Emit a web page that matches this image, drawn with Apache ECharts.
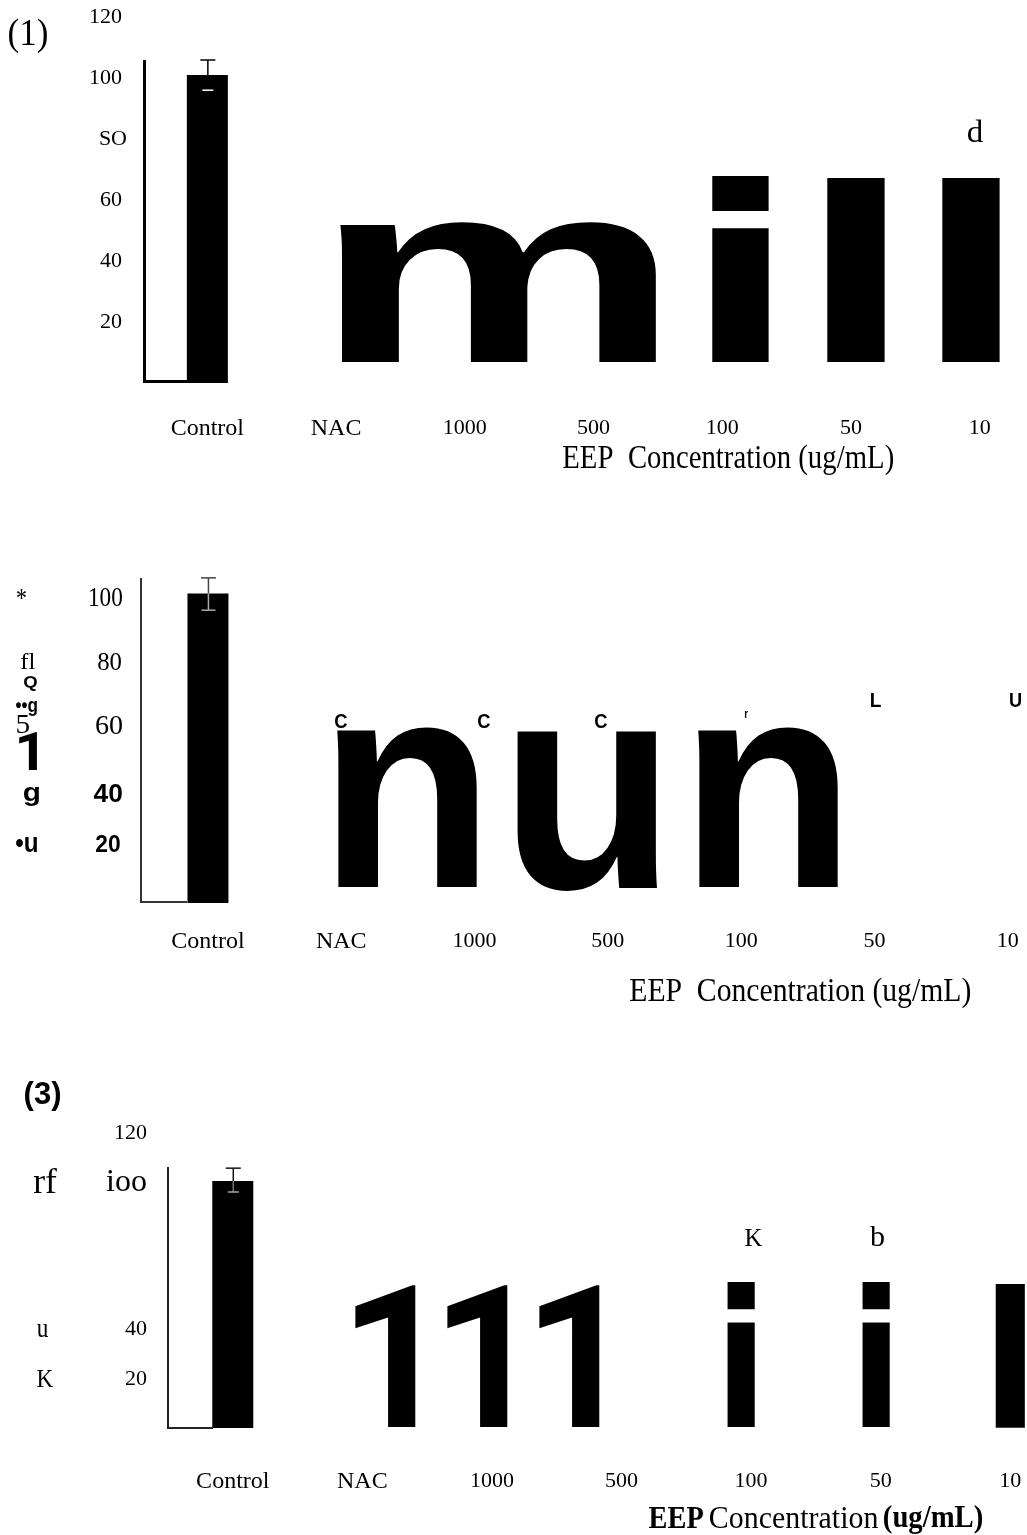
<!DOCTYPE html>
<html>
<head>
<meta charset="utf-8">
<style>html,body{margin:0;padding:0;background:#fff;overflow:hidden}#c{width:1027px;height:1535px}</style>
<script src="https://cdn.jsdelivr.net/npm/echarts@6/dist/echarts.min.js"></script>
</head>
<body>
<div id="c"></div>
<script>
// ---- data ----
var categories = ['Control', 'NAC', '1000', '500', '100', '50', '10'];
var values1 = [101, null, null, null, null, null, null];
var values2 = [101.5, null, null, null, null, null, null];
var values3 = [100.5, null, null, null, null, null, null];
var errorLow = [96, 96, 96];
var errorHigh = [105.9, 106.6, 105.7];
var tickLabels1 = { 120: '120', 100: '100', 80: 'SO', 60: '60', 40: '40', 20: '20' };
var tickLabels3 = { 120: '120', 100: 'ioo', 40: '40', 20: '20' };

// ---- layout (text placed by its ink box: text, family, weight, x0, x1, y0, y1) ----
var SERIF = 'Liberation Serif', SANS = 'Liberation Sans', ROB = 'Roboto', DV = 'DejaVu Sans';
var texts = [
  ['(1)', SERIF, 'normal', 9, 47, 19, 53],
  ['d', SERIF, 'normal', 968, 983, 119, 142],
  ['m', SANS, 'bold', 340, 657, 222, 362],
  ['i', DV, 'bold', 711, 769, 176, 362],
  ['l', DV, 'bold', 826, 885, 178, 362],
  ['l', DV, 'bold', 941, 1000, 178, 362],
  ['EEP  Concentration (ug/mL)', SERIF, 'normal', 563, 893, 444, 475],
  ['*', SERIF, 'normal', 17, 26, 589, 599],
  ['fl', SERIF, 'normal', 21, 35, 653, 669],
  ['Q', SANS, 'bold', 24, 37, 677, 691],
  ['••g', SANS, 'bold', 16, 37, 701, 716],
  ['5', SERIF, 'normal', 17, 29, 715, 733],
  ['1', ROB, 'bold', 19, 37, 731, 770],
  ['g', SANS, 'bold', 24, 39, 787, 807],
  ['•u', SANS, 'bold', 16, 37, 837, 852],
  ['100', SERIF, 'normal', 90, 122, 588, 606],
  ['80', SERIF, 'normal', 98, 121, 653, 670],
  ['60', SERIF, 'normal', 96, 122, 715, 734],
  ['40', SANS, 'bold', 94, 122, 784, 802],
  ['20', SANS, 'bold', 96, 120, 835, 852],
  ['n', SANS, 'bold', 337, 477, 727, 887],
  ['u', SANS, 'bold', 517, 657, 731, 891],
  ['n', SANS, 'bold', 698, 838, 727, 887],
  ['C', SANS, 'bold', 335, 347, 713, 728],
  ['C', SANS, 'bold', 478, 490, 713, 728],
  ['C', SANS, 'bold', 595, 607, 713, 728],
  ['r', SANS, 'bold', 745, 748, 711, 718],
  ['L', SANS, 'bold', 871, 881, 693, 707],
  ['U', SANS, 'bold', 1010, 1021, 693, 707],
  ['EEP  Concentration (ug/mL)', SERIF, 'normal', 630, 970, 978, 1008],
  ['(3)', SANS, 'bold', 25, 60, 1081, 1111],
  ['rf', SERIF, 'normal', 34, 57, 1168, 1193],
  ['u', SERIF, 'normal', 37, 48, 1324, 1337],
  ['K', SERIF, 'normal', 37, 53, 1371, 1387],
  ['1', ROB, 'bold', 355, 416, 1285, 1427],
  ['1', ROB, 'bold', 447, 508, 1285, 1427],
  ['1', ROB, 'bold', 539, 600, 1285, 1427],
  ['i', DV, 'bold', 727, 755, 1282, 1427],
  ['i', DV, 'bold', 862, 890, 1282, 1427],
  ['l', DV, 'bold', 995, 1025, 1284, 1428],
  ['K', SERIF, 'normal', 745, 762, 1229, 1246],
  ['b', SERIF, 'normal', 870, 884, 1225, 1246],
  ['EEP', SERIF, 'bold', 649, 703, 1507, 1528],
  ['Concentration', SERIF, 'normal', 710, 878, 1507, 1528],
  ['(ug/mL)', SERIF, 'bold', 884, 982, 1506, 1534]
];
// axis lines that stop part-way: x0, y0, x1, y1, width, colour
var axisLines = [
  [144.5, 60, 144.5, 383, 3, '#000'],
  [143, 381.5, 187, 381.5, 3, '#000'],
  [141, 578, 141, 903, 2, '#333'],
  [140, 902, 187, 902, 2, '#333'],
  [168, 1167, 168, 1429, 2, '#222'],
  [167, 1428, 213, 1428, 2, '#222']
];

var probe = document.createElement('canvas').getContext('2d');
function fitText(t) {
  var base = 200;
  probe.font = t[2] + ' ' + base + 'px "' + t[1] + '"'; probe.textBaseline = 'middle'; probe.textAlign = 'left';
  var m = probe.measureText(t[0]);
  var inkW = m.actualBoundingBoxRight + m.actualBoundingBoxLeft;
  var inkH = m.actualBoundingBoxAscent + m.actualBoundingBoxDescent;
  var sx = (t[4] - t[3]) / inkW, sy = (t[6] - t[5]) / inkH;
  return {
    type: 'text', silent: true, z: 5,
    x: t[3] + m.actualBoundingBoxLeft * sx,
    y: t[5] + m.actualBoundingBoxAscent * sy,
    scaleX: sx, scaleY: sy,
    style: { text: t[0], fontFamily: t[1], fontWeight: t[2], fontSize: base, fill: '#000', align: 'left', verticalAlign: 'middle' }
  };
}
var graphics = texts.map(fitText).concat(axisLines.map(function (l) {
  return { type: 'line', silent: true, z: 4,
    shape: { x1: l[0], y1: l[1], x2: l[2], y2: l[3] },
    style: { stroke: l[5], lineWidth: l[4] } };
}));

function errorSeries(i, low, high, bar, capTop, capLow, outer, inner, lowColor) {
  return {
    type: 'custom', xAxisIndex: i, yAxisIndex: i, clip: false, z: 3, silent: true,
    data: [[0, low, high, bar]],
    renderItem: function (p, api) {
      var c = api.value(0);
      var h = api.coord([c, api.value(2)]), b = api.coord([c, api.value(3)]), l = api.coord([c, api.value(1)]);
      var x = h[0] + 0.5;
      function seg(x1, y1, x2, y2, col, w) {
        return { type: 'line', shape: { x1: x1, y1: y1, x2: x2, y2: y2 }, style: { stroke: col, lineWidth: w } };
      }
      return { type: 'group', children: [
        seg(x, h[1], x, b[1], outer, 1.5),
        seg(x, b[1], x, l[1], inner, 1.5),
        seg(x - capTop, h[1], x + capTop, h[1], outer, 1.5),
        seg(x - capLow, l[1], x + capLow, l[1], lowColor, 1.5)
      ] };
    }
  };
}
function barSeries(i, vals) {
  return { type: 'bar', xAxisIndex: i, yAxisIndex: i, data: vals, barWidth: 41,
    itemStyle: { color: '#000' }, silent: true, z: 2 };
}
function xAxis(i, margin, size) {
  return { type: 'category', gridIndex: i, data: categories.map(function (c) {
      return c === 'Control' || c === 'NAC' ? { value: c, textStyle: { fontSize: size + 2 } } : c;
    }),
    axisLine: { show: false }, axisTick: { show: false }, splitLine: { show: false },
    axisLabel: { interval: 0, margin: margin, color: '#000', fontFamily: SERIF, fontSize: size, hideOverlap: false } };
}
function yAxis(i, map, margin) {
  return { type: 'value', gridIndex: i, min: 0, max: 120, interval: 20,
    axisLine: { show: false }, axisTick: { show: false }, splitLine: { show: false },
    axisLabel: { show: !!map, margin: margin, color: '#000', fontFamily: SERIF, fontSize: 22,
      formatter: function (v) {
        var s = map && map[v] || '';
        if (!s) return '';
        if (s === 'ioo') return '{big|ioo}';
        if (s === 'SO') return '{so|SO}';
        return '{n|' + s + '}';
      },
      rich: {
        big: { fontSize: 32, fontFamily: SERIF, color: '#000', padding: [0, 5, 0, 0] },
        so: { fontSize: 22, fontFamily: SERIF, color: '#000' },
        n: { fontSize: 22, fontFamily: SERIF, color: '#000', padding: [0, 5, 0, 0] }
      } } };
}

var chart = echarts.init(document.getElementById('c'), null, { renderer: 'canvas', width: 1027, height: 1535 });
chart.setOption({
  animation: false,
  backgroundColor: '#fff',
  grid: [
    { left: 143, width: 901, top: 17, height: 366, outerBoundsMode: 'none' },
    { left: 141.3, width: 933.1, top: 537, height: 366, outerBoundsMode: 'none' },
    { left: 168, width: 907, top: 1133, height: 295, outerBoundsMode: 'none' }
  ],
  xAxis: [xAxis(0, 34, 22), xAxis(1, 27, 22), xAxis(2, 42, 22)],
  yAxis: [yAxis(0, tickLabels1, 16), yAxis(1, null, 16), yAxis(2, tickLabels3, 16)],
  series: [
    barSeries(0, values1), barSeries(1, values2), barSeries(2, values3),
    errorSeries(0, errorLow[0], errorHigh[0], values1[0], 7.5, 5.5, '#000', '#000', '#fff'),
    errorSeries(1, errorLow[1], errorHigh[1], values2[0], 7.5, 7, '#444', '#aaa', '#aaa'),
    errorSeries(2, errorLow[2], errorHigh[2], values3[0], 7.5, 5.5, '#111', '#777', '#aaa')
  ],
  graphic: { elements: graphics }
});
</script>
</body>
</html>
